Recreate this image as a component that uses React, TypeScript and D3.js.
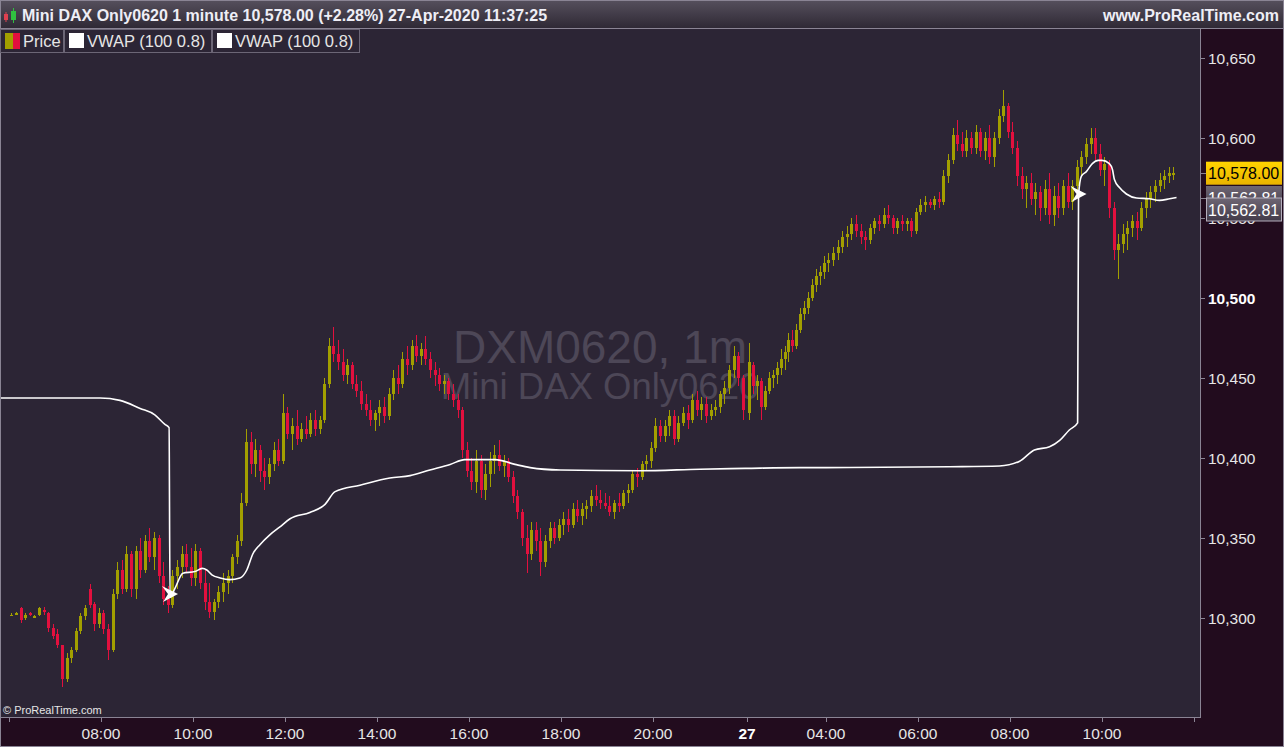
import React from 'react';
import * as d3 from 'd3';

// 1-minute Mini DAX chart, candles re-sampled to 6 min slots (12 min overnight)
// each entry: [open, high, low, close]
const day1Start = 6;
const day1Step = 0.1;
const day1 = [
  [10302,10303,10301,10302],[10303,10304,10302,10303],[10306,10307,10297,10299],[10300,10303,10299,10302],
  [10303,10304,10301,10302],[10301,10302,10300,10301],[10302,10307,10301,10306],[10305,10307,10302,10304],
  [10303,10304,10291,10294],[10294,10296,10287,10289],[10290,10293,10281,10283],[10283,10283,10257,10262],
  [10262,10278,10260,10275],[10275,10282,10272,10280],[10280,10294,10279,10292],[10292,10303,10290,10301],
  [10301,10308,10299,10306],[10318,10321,10306,10308],[10309,10310,10292,10296],[10296,10306,10294,10303],
  [10303,10305,10290,10293],[10293,10296,10274,10280],[10280,10318,10279,10315],[10315,10335,10312,10330],
  [10330,10336,10315,10318],[10318,10345,10316,10340],[10340,10342,10313,10318],[10318,10345,10312,10342],
  [10342,10350,10325,10330],[10330,10352,10328,10348],[10348,10356,10335,10338],[10338,10354,10330,10350],
  [10350,10352,10322,10326],[10326,10335,10308,10312],[10312,10320,10303,10308],[10308,10330,10306,10326],
  [10326,10336,10318,10332],[10332,10345,10325,10340],[10340,10346,10328,10332],[10332,10344,10320,10325],
  [10325,10346,10320,10342],[10342,10344,10318,10322],[10322,10330,10305,10310],[10310,10322,10300,10304],
  [10304,10312,10299,10310],[10310,10320,10306,10316],[10316,10328,10310,10322],[10322,10330,10315,10326],
  [10326,10340,10322,10338],[10338,10352,10334,10348],[10348,10378,10345,10372],[10372,10418,10370,10410],
  [10410,10416,10390,10396],[10396,10412,10388,10405],[10405,10408,10385,10392],[10392,10400,10380,10388],
  [10388,10400,10384,10396],[10396,10410,10392,10405],[10405,10412,10395,10398],[10398,10440,10396,10428],
  [10428,10432,10412,10415],[10415,10425,10405,10420],[10420,10430,10408,10412],[10412,10422,10410,10418],
  [10418,10426,10412,10415],[10415,10428,10413,10424],[10424,10430,10414,10418],[10418,10426,10415,10424],
  [10424,10450,10422,10446],[10446,10475,10444,10470],[10470,10482,10460,10465],[10465,10474,10455,10460],
  [10460,10468,10448,10452],[10452,10462,10446,10458],[10458,10460,10443,10446],[10446,10452,10438,10442],
  [10442,10448,10430,10434],[10434,10440,10426,10430],[10430,10436,10420,10424],[10424,10430,10417,10428],
  [10428,10436,10420,10432],[10432,10438,10422,10426],[10426,10444,10424,10440],[10440,10455,10436,10450],
  [10450,10458,10440,10446],[10446,10466,10444,10462],[10462,10470,10452,10458],[10458,10474,10455,10470],
  [10470,10477,10460,10464],[10464,10472,10458,10468],[10468,10476,10458,10462],[10462,10466,10450,10455],
  [10455,10460,10445,10452],[10452,10456,10442,10446],[10446,10452,10440,10448],[10448,10450,10436,10440],
  [10440,10446,10432,10436],[10436,10440,10425,10430],[10430,10432,10400,10405],[10405,10410,10388,10392],
  [10392,10400,10380,10385],[10385,10405,10378,10398],[10398,10402,10375,10380],[10380,10396,10374,10390],
  [10390,10404,10382,10398],[10398,10408,10390,10402],[10402,10411,10392,10395],[10395,10402,10388,10398],
  [10398,10400,10385,10388],[10388,10392,10372,10376],[10376,10380,10362,10366],[10366,10368,10345,10350],
  [10350,10358,10328,10340],[10340,10360,10336,10355],[10355,10360,10342,10348],[10348,10356,10326,10335],
  [10335,10352,10332,10348],[10348,10360,10344,10356],[10356,10360,10346,10350],[10350,10362,10348,10358],
  [10358,10366,10352,10362],[10362,10368,10354,10358],[10358,10372,10356,10368],[10368,10374,10360,10364],
  [10364,10372,10358,10368],[10368,10374,10362,10370],[10370,10380,10366,10376],[10376,10383,10370,10374],
  [10374,10380,10368,10372],[10372,10378,10368,10370],[10370,10376,10364,10366],[10366,10374,10362,10372],
  [10372,10378,10366,10370],[10370,10380,10368,10378],[10378,10384,10372,10380],[10380,10392,10378,10390],
  [10390,10394,10382,10388],[10388,10398,10386,10396],[10396,10402,10392,10398],[10398,10410,10394,10406],
  [10406,10425,10404,10420],[10420,10424,10410,10414],[10414,10424,10410,10420],[10420,10430,10414,10426],
  [10426,10430,10408,10412],[10412,10426,10410,10422],[10422,10432,10420,10428],[10428,10433,10418,10424],
  [10424,10440,10422,10436],[10436,10442,10426,10430],[10430,10438,10424,10434],[10434,10438,10422,10426],
  [10426,10434,10424,10430],[10430,10436,10426,10432],[10432,10442,10428,10440],[10440,10448,10434,10444],
  [10444,10458,10440,10455],[10455,10470,10450,10464],[10464,10466,10445,10450],[10450,10452,10424,10430],
];

const nightStart = 24;
const nightStep = 0.2;
const night = [
  [10428,10472,10424,10460],[10458,10460,10440,10445],[10445,10452,10436,10448],[10448,10450,10424,10432],
  [10432,10445,10430,10442],[10442,10454,10440,10450],[10450,10455,10444,10452],[10452,10460,10446,10456],
  [10456,10468,10452,10462],[10462,10470,10455,10466],[10466,10478,10460,10474],[10474,10480,10466,10470],
  [10470,10484,10468,10480],[10480,10494,10478,10490],[10490,10498,10486,10494],[10494,10504,10490,10500],
  [10500,10512,10498,10508],[10508,10518,10504,10514],[10514,10520,10508,10516],[10516,10526,10512,10522],
];

const day2Start = 28;
const day2Step = 0.1;
const day2 = [
  [10522,10528,10516,10524],[10524,10532,10520,10528],[10528,10536,10524,10532],[10532,10542,10528,10538],
  [10538,10545,10532,10540],[10540,10550,10536,10546],[10546,10552,10538,10542],[10542,10546,10534,10538],
  [10538,10542,10530,10536],[10536,10546,10534,10544],[10544,10550,10540,10548],[10548,10552,10542,10546],
  [10546,10556,10544,10552],[10552,10558,10546,10550],[10550,10552,10540,10544],[10544,10550,10540,10548],
  [10548,10552,10542,10546],[10546,10550,10542,10548],[10548,10550,10538,10542],[10542,10556,10540,10554],
  [10554,10562,10552,10558],[10558,10564,10554,10560],[10560,10562,10556,10558],[10558,10564,10555,10562],
  [10562,10566,10556,10560],[10560,10580,10558,10576],[10576,10590,10572,10586],[10586,10606,10584,10602],
  [10602,10611,10592,10596],[10596,10604,10588,10592],[10592,10605,10588,10600],[10600,10604,10590,10594],
  [10594,10608,10590,10604],[10604,10606,10588,10592],[10592,10604,10586,10600],[10600,10608,10584,10588],
  [10588,10604,10582,10600],[10600,10618,10596,10614],[10614,10630,10610,10620],[10620,10622,10600,10604],
  [10604,10610,10590,10594],[10594,10598,10570,10576],[10576,10582,10562,10568],[10568,10576,10556,10572],
  [10572,10578,10558,10562],[10562,10572,10552,10566],[10566,10570,10548,10556],[10556,10574,10552,10568],
  [10568,10578,10546,10552],[10552,10570,10545,10564],[10564,10572,10550,10556],[10556,10574,10552,10570],
  [10570,10578,10556,10560],[10560,10574,10555,10570],[10570,10586,10566,10582],[10582,10592,10576,10588],
  [10588,10600,10584,10596],[10596,10606,10590,10600],[10600,10606,10586,10590],[10590,10596,10576,10580],
  [10580,10588,10570,10584],[10584,10586,10550,10556],[10556,10560,10524,10530],[10530,10540,10512,10534],
  [10534,10546,10528,10540],[10540,10548,10530,10544],[10544,10552,10538,10548],[10548,10554,10536,10544],
  [10544,10560,10542,10556],[10556,10566,10550,10562],[10562,10570,10556,10566],[10566,10574,10560,10570],
  [10570,10578,10566,10574],[10574,10580,10568,10576],[10576,10582,10572,10578],[10578,10582,10574,10578],
];

// VWAP (100 0.8): [hour, price]
const vwap = [
  [5.8,10437.5],[6.9,10437.5],[7.98,10437.5],[8.41,10436],[8.85,10431],[9.17,10427],[9.39,10421],[9.48,10419],
  [9.5,10313],[9.6,10318],[9.78,10328],[10.04,10329],[10.2,10331],[10.3,10330],[10.41,10327],[10.59,10325],
  [10.8,10324],[11.02,10325],[11.17,10330],[11.3,10340],[11.46,10346],[11.67,10352],[11.89,10357],[12.11,10362],
  [12.54,10366],[12.87,10371],[13.09,10379],[13.63,10383],[14.28,10387.5],[14.72,10389],[15.15,10392.5],
  [15.59,10396],[15.91,10399],[16.57,10399],[17.0,10396],[17.33,10394],[17.98,10392.5],[19.72,10392],
  [21.02,10393],[22,10393.5],[26.68,10394],[28,10394],[30.69,10394.5],[31.77,10395],[32.21,10398],
  [32.53,10405],[32.86,10407],[33.08,10411],[33.29,10417.5],[33.47,10422],
  [33.49,10564],[33.55,10576],[33.66,10579],[33.79,10584],[33.92,10586],[34.0,10586],[34.16,10584],
  [34.23,10580],[34.27,10574],[34.38,10569],[34.53,10565],[34.75,10562.5],[35.03,10562],[35.25,10561],
  [35.47,10562],[35.62,10562.81],
];
const vwapResets = [[9.5, 10315], [33.49, 10565]];

const priceTicks = [10300, 10350, 10400, 10450, 10500, 10550, 10600, 10650];
const timeTicks = [6, 8, 10, 12, 14, 16, 18, 20, 24, 28, 30, 32, 34, 36];
const timeLabels = ['', '08:00', '10:00', '12:00', '14:00', '16:00', '18:00', '20:00', '27', '04:00', '06:00', '08:00', '10:00', ''];

// session gaps: trading hours mapped onto the bar axis
const timeKnots = [6, 22, 24, 28, 36];

const OLIVE = '#a29f00';
const RED = '#e2103e';
const FONT = '"Liberation Sans", Arial, sans-serif';

export default function App() {
  const plotL = 1, plotR = 1200, plotT = 29, plotB = 717;
  const x = d3.scaleLinear().domain(timeKnots).range([9, 745, 747, 826, 1194]);
  const y = d3.scaleLinear().domain([10300, 10650]).range([618, 58]);

  const sessions: [number, number, number[][]][] = [
    [day1Start, day1Step, day1],
    [nightStart, nightStep, night],
    [day2Start, day2Step, day2],
  ];
  const candles = sessions.flatMap(([start, step, rows]) =>
    rows.map((r, i) => ({ t: start + i * step + step / 2, o: r[0], h: r[1], l: r[2], c: r[3] })));

  const line = d3.line<number[]>()
    .x(d => x(d[0]))
    .y(d => y(d[1]))
    .curve(d3.curveMonotoneX);

  const lastClose = day2[day2.length - 1][3];
  const lastVwap = vwap[vwap.length - 1][1];
  const fmt = d3.format(',.2f');
  const yClose = y(lastClose);
  const yVwap = y(lastVwap);

  return (
    <svg width={1284} height={747} style={{ position: 'absolute', left: 0, top: 0, fontFamily: FONT }}>
      <defs>
        <linearGradient id="hdr" x1="0" y1="0" x2="0" y2="1">
          <stop offset="0" stopColor="#56505d" />
          <stop offset="1" stopColor="#2f2935" />
        </linearGradient>
        <linearGradient id="gold" x1="0" y1="0" x2="0" y2="1">
          <stop offset="0" stopColor="#ffd400" />
          <stop offset="1" stopColor="#eab300" />
        </linearGradient>
        <linearGradient id="grey" x1="0" y1="0" x2="0" y2="1">
          <stop offset="0" stopColor="#6e6674" />
          <stop offset="1" stopColor="#433b49" />
        </linearGradient>
        <clipPath id="plot">
          <rect x={plotL} y={plotT} width={plotR - plotL} height={plotB - plotT} />
        </clipPath>
      </defs>

      {/* backgrounds */}
      <rect x={0} y={0} width={1284} height={747} fill="#220c1e" />
      <rect x={plotL} y={plotT} width={plotR - plotL} height={plotB - plotT} fill="#2c2535" />
      <rect x={0} y={0} width={1284} height={28} fill="url(#hdr)" />

      {/* watermark */}
      <text x={600} y={363} textAnchor="middle" fontSize={46} fill="#4d4757">DXM0620, 1m</text>
      <text x={600} y={399} textAnchor="middle" fontSize={36.5} fill="#4d4757">Mini DAX Only0620</text>

      {/* candles */}
      <g clipPath="url(#plot)" shapeRendering="crispEdges">
        {candles.map((d, i) => {
          const col = d.c >= d.o ? OLIVE : RED;
          const cx = Math.round(x(d.t));
          const top = y(Math.max(d.o, d.c));
          const bot = y(Math.min(d.o, d.c));
          return (
            <g key={i}>
              <rect x={cx} y={y(d.h)} width={1} height={Math.max(1, y(d.l) - y(d.h))} fill={col} />
              <rect x={cx - 1} y={top} width={3} height={Math.max(1.5, bot - top)} fill={col} />
            </g>
          );
        })}
      </g>

      {/* vwap */}
      <g clipPath="url(#plot)">
        <path d={line(vwap) || ''} fill="none" stroke="#ffffff" strokeWidth={1.6} />
        {vwapResets.map((r, i) => (
          <path key={i} transform={`translate(${x(r[0])},${y(r[1])})`}
            d="M-8,-8 L8,0 L-7,8 L-2,0 Z" fill="#ffffff" />
        ))}
      </g>

      {/* frame */}
      <g fill="none" stroke="#8a8494" strokeWidth={1} shapeRendering="crispEdges">
        <line x1={0} x2={1284} y1={28.5} y2={28.5} />
        <line x1={0.5} x2={0.5} y1={28} y2={747} />
        <line x1={0} x2={plotR} y1={plotB + 0.5} y2={plotB + 0.5} />
        <line x1={plotR + 0.5} x2={plotR + 0.5} y1={28} y2={plotB + 1} />
        <rect x={0.5} y={0.5} width={1283} height={746} />
      </g>

      {/* header */}
      <g>
        <rect x={4} y={14} width={4} height={6} fill="#e04050" />
        <line x1={6} x2={6} y1={12} y2={22} stroke="#e04050" />
        <rect x={11} y={11} width={5} height={9} fill="#30c040" />
        <line x1={13.5} x2={13.5} y1={8} y2={23} stroke="#30c040" />
        <text x={22} y={21} fontSize={16} fontWeight="bold" fill="#eeeef6">
          Mini DAX Only0620 1 minute {fmt(lastClose)} (+2.28%) 27-Apr-2020 11:37:25
        </text>
        <text x={1279} y={21} fontSize={16} fontWeight="bold" fill="#eeeef6" textAnchor="end">www.ProRealTime.com</text>
      </g>

      {/* legend */}
      <g fontSize={16.5} fill="#e6e6e6">
        <rect x={0.5} y={29.5} width={63} height={23} fill="#2c2535" stroke="#6c6676" />
        <rect x={5} y={33} width={8} height={16} fill={OLIVE} />
        <rect x={13} y={33} width={7} height={16} fill={RED} />
        <text x={23} y={47}>Price</text>
        <rect x={64.5} y={29.5} width={147} height={23} fill="#2c2535" stroke="#6c6676" />
        <rect x={69} y={33} width={15} height={15} fill="#ffffff" />
        <text x={87} y={47}>VWAP (100 0.8)</text>
        <rect x={212.5} y={29.5} width={147} height={23} fill="#2c2535" stroke="#6c6676" />
        <rect x={217} y={33} width={15} height={15} fill="#ffffff" />
        <text x={235} y={47}>VWAP (100 0.8)</text>
      </g>

      {/* y axis */}
      <g fontSize={15.5} fill="#e6e6e6">
        {priceTicks.map(p => (
          <g key={p}>
            <line x1={plotR} x2={plotR + 5} y1={Math.round(y(p)) + 0.5} y2={Math.round(y(p)) + 0.5} stroke="#8a8494" />
            <text x={1208} y={y(p) + 6} fontWeight={p === 10500 ? 'bold' : 'normal'}
              fill={p === 10500 ? '#ffffff' : '#e6e6e6'}>{d3.format(',')(p)}</text>
          </g>
        ))}
      </g>

      {/* x axis */}
      <g fontSize={15.5} fill="#e6e6e6">
        {timeTicks.map((t, i) => (
          <g key={t}>
            <line x1={Math.round(x(t)) + 0.5} x2={Math.round(x(t)) + 0.5} y1={plotB + 1} y2={plotB + 5} stroke="#8a8494" />
            <text x={x(t)} y={739} textAnchor="middle" fontWeight={timeLabels[i] === '27' ? 'bold' : 'normal'}
              fill={timeLabels[i] === '27' ? '#ffffff' : '#e6e6e6'}>{timeLabels[i]}</text>
          </g>
        ))}
      </g>
      <text x={3} y={714} fontSize={11} fill="#e6e6e6">© ProRealTime.com</text>

      {/* last value labels */}
      <line x1={plotR} x2={1206} y1={Math.round(yClose) + 0.5} y2={Math.round(yClose) + 0.5} stroke="#8a8494" />
      <line x1={plotR} x2={1206} y1={Math.round(yVwap) + 0.5} y2={Math.round(yVwap) + 0.5} stroke="#8a8494" />
      <rect x={1206} y={yVwap - 11.5} width={76} height={23} fill="url(#grey)" />
      <text x={1208} y={yVwap + 6} fontSize={16} fill="#ffffff">{fmt(lastVwap)}</text>
      <rect x={1206} y={yClose - 11.5} width={76} height={23} fill="url(#gold)" />
      <text x={1208} y={yClose + 6} fontSize={16} fill="#000000">{fmt(lastClose)}</text>
      <rect x={1206.5} y={yVwap + 0.5} width={75} height={23} fill="url(#grey)" stroke="#b4aebc" />
      <text x={1208} y={yVwap + 18} fontSize={16} fill="#ffffff">{fmt(lastVwap)}</text>
    </svg>
  );
}
